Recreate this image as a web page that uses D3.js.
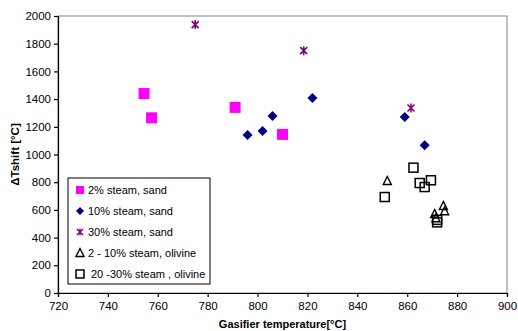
<!DOCTYPE html>
<html>
<head>
<meta charset="utf-8">
<script src="https://cdn.jsdelivr.net/npm/d3@7"></script>
<style>
  body { margin: 0; background: #fff; }
  text { font-family: "Liberation Sans", Arial, sans-serif; }
</style>
</head>
<body>
<div id="chart"></div>
<script>
// series values: [temperature, dTshift]
var steam2Sand = [[754.5, 1440], [757.5, 1265], [791, 1340], [810, 1145]];
var steam10Sand = [[796, 1140], [802, 1170], [806, 1278], [822, 1408], [859, 1270], [867, 1066]];
var steam30Sand = [[775, 1938], [818.5, 1750], [861.5, 1336]];
var olivine2to10 = [[852, 809], [874.5, 628], [875, 590], [871, 570], [871.5, 540]];
var olivine20to30 = [[862.5, 905], [851, 693], [865, 794], [869.5, 814], [867, 765], [872, 528], [872, 510]];

var legendLabels = ["2% steam, sand", "10% steam, sand", "30% steam, sand", "2 - 10% steam, olivine", "20 -30% steam , olivine"];
var xTicks = [720, 740, 760, 780, 800, 820, 840, 860, 880, 900];
var yTicks = [0, 200, 400, 600, 800, 1000, 1200, 1400, 1600, 1800, 2000];

var margin = { top: 16, right: 11, bottom: 38, left: 58 },
    width = 518 - margin.left - margin.right,
    height = 331 - margin.top - margin.bottom;

var svg = d3.select("#chart")
    .append("svg")
    .attr("width", 518)
    .attr("height", 331)
    .append("g")
    .attr("transform", "translate(" + margin.left + "," + margin.top + ")");

var x = d3.scaleLinear().domain([720, 900]).range([0, width]);
var y = d3.scaleLinear().domain([0, 2000]).range([height, 0]);

// plot frame (grey top/right)
svg.append("rect")
    .attr("width", width)
    .attr("height", height)
    .attr("fill", "none")
    .attr("stroke", "#999")
    .attr("stroke-width", 1.2);

var xAxis = svg.append("g")
    .attr("transform", "translate(0," + height + ")")
    .call(d3.axisBottom(x).tickValues(xTicks).tickFormat(d3.format("d")).tickSize(4).tickPadding(5));
var yAxis = svg.append("g")
    .call(d3.axisLeft(y).tickValues(yTicks).tickFormat(d3.format("d")).tickSize(4).tickPadding(3));

[xAxis, yAxis].forEach(function(a) {
    a.selectAll("path, line").attr("stroke", "#000").attr("stroke-width", 1.2);
    a.selectAll("text").style("font-size", "11.5px").attr("fill", "#000")
        .style("font-family", "'Liberation Sans', Arial, sans-serif");
});

// axis titles
svg.append("text")
    .attr("x", x(810))
    .attr("y", height + 35)
    .attr("text-anchor", "middle")
    .style("font-size", "11px")
    .style("font-weight", "bold")
    .text("Gasifier temperature[°C]");

svg.append("text")
    .attr("transform", "translate(-39," + y(1000) + ") rotate(-90)")
    .attr("text-anchor", "middle")
    .style("font-size", "11.5px")
    .style("font-weight", "bold")
    .text("ΔTshift [°C]");

// marker drawers
function drawSquare(g, s, fill, stroke) {
    g.append("rect").attr("x", -s / 2).attr("y", -s / 2).attr("width", s).attr("height", s)
        .attr("fill", fill).attr("stroke", stroke).attr("stroke-width", stroke === "none" ? 0 : 1.5);
}
function drawDiamond(g) {
    g.append("path").attr("d", "M0,-5L5,0L0,5L-5,0Z").attr("fill", "#000080");
}
function drawStar(g) {
    g.append("path").attr("d", "M-3.5,-3.5L3.5,3.5M-3.5,3.5L3.5,-3.5M0,-4.5L0,4.5")
        .attr("stroke", "#800080").attr("stroke-width", 1.6).attr("fill", "none");
}
function drawTriangle(g) {
    g.append("path").attr("d", "M0,-4.5L4,3.5L-4,3.5Z")
        .attr("fill", "none").attr("stroke", "#000").attr("stroke-width", 1.4);
}

var series = [
    { data: steam2Sand, draw: function(g) { drawSquare(g, 11, "#ff00ff", "none"); } },
    { data: steam10Sand, draw: drawDiamond },
    { data: steam30Sand, draw: drawStar },
    { data: olivine2to10, draw: drawTriangle },
    { data: olivine20to30, draw: function(g) { drawSquare(g, 9, "none", "#000"); } }
];

series.forEach(function(s) {
    svg.append("g")
        .selectAll("g")
        .data(s.data)
        .enter()
        .append("g")
        .attr("transform", function(d) { return "translate(" + x(d[0]) + "," + y(d[1]) + ")"; })
        .each(function() { s.draw(d3.select(this)); });
});

// legend
var legend = svg.append("g").attr("transform", "translate(" + (68 - margin.left) + "," + (178 - margin.top) + ")");
legend.append("rect")
    .attr("width", 142)
    .attr("height", 106)
    .attr("fill", "#fff")
    .attr("stroke", "#000")
    .attr("stroke-width", 1);

var legendMarkers = [
    function(g) { drawSquare(g, 8, "#ff00ff", "none"); },
    function(g) { g.append("path").attr("d", "M0,-4L4,0L0,4L-4,0Z").attr("fill", "#000080"); },
    function(g) { g.append("path").attr("d", "M-3,-3L3,3M-3,3L3,-3M0,-3.5L0,3.5").attr("stroke", "#800080").attr("stroke-width", 1.4); },
    drawTriangle,
    function(g) { drawSquare(g, 8, "none", "#000"); }
];

legendLabels.forEach(function(label, i) {
    var row = legend.append("g").attr("transform", "translate(0," + (12 + i * 21) + ")");
    var m = row.append("g").attr("transform", "translate(12,0)");
    legendMarkers[i](m);
    row.append("text")
        .attr("x", i === 4 ? 23 : 20)
        .attr("y", 4)
        .style("font-size", "11px")
        .text(label);
});
</script>
</body>
</html>
